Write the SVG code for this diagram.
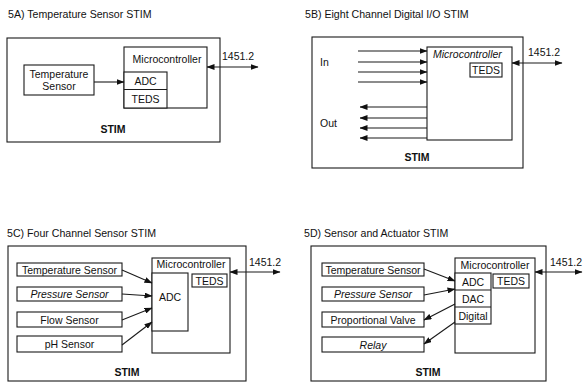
<svg xmlns="http://www.w3.org/2000/svg" width="584" height="383" viewBox="0 0 584 383">
<defs>
<style>
.t{font-family:"Liberation Sans",Arial,sans-serif;font-size:10.5px;fill:#111}
.ttl{font-family:"Liberation Sans",Arial,sans-serif;font-size:10.6px;fill:#111}
.m{text-anchor:middle}
.i{font-style:italic}
.b{font-weight:bold}
.box{fill:#fff;stroke:#1a1a1a;stroke-width:1.1}
.ln{stroke:#1a1a1a;stroke-width:1.1;fill:none}
.a{marker-end:url(#ah)}
.ar{marker-end:url(#ah);marker-start:url(#ah)}
</style>
<marker id="ah" viewBox="0 0 8 6" refX="7.5" refY="3" markerWidth="8" markerHeight="6" markerUnits="userSpaceOnUse" orient="auto-start-reverse">
<path d="M0,0 L8,3 L0,6 z" fill="#111"/>
</marker>
</defs>
<rect width="584" height="383" fill="#fff"/>

<!-- Panel A -->
<g id="panelA">
<text class="ttl" x="8" y="18">5A) Temperature Sensor STIM</text>
<rect class="box" x="7" y="38" width="213" height="104"/>
<text class="t b m" x="113" y="133">STIM</text>
<text class="t" x="222" y="60">1451.2</text>
</g>
<g id="A-micro">
<rect class="box" x="124" y="47" width="83" height="61"/>
<text class="t m" x="167" y="63">Microcontroller</text>
<rect class="box" x="124" y="72" width="43" height="36"/>
<line class="ln" x1="124" y1="89.5" x2="167" y2="89.5"/>
<text class="t m" x="145.5" y="85">ADC</text>
<text class="t m" x="145.5" y="103">TEDS</text>
</g>
<g id="A-sensor">
<rect class="box" x="24" y="65" width="70" height="30"/>
<text class="t m" x="59" y="78">Temperature</text>
<text class="t m" x="59" y="90">Sensor</text>
</g>

<!-- Panel B -->
<g id="panelB">
<text class="ttl" x="305" y="18">5B) Eight Channel Digital I/O STIM</text>
<rect class="box" x="312" y="37" width="211" height="131"/>
<text class="t" x="320" y="66">In</text>
<text class="t" x="320" y="127">Out</text>
<text class="t b m" x="417" y="161">STIM</text>
<text class="t" x="528" y="56">1451.2</text>
</g>
<g id="B-micro">
<rect class="box" x="427" y="47" width="85" height="93"/>
<text class="t i" x="433" y="58">Microcontroller</text>
<rect class="box" x="470" y="63" width="32" height="14"/>
<text class="t m" x="486" y="74">TEDS</text>
</g>

<!-- Panel C -->
<g id="panelC">
<text class="ttl" x="7" y="237">5C) Four Channel Sensor STIM</text>
<rect class="box" x="8" y="246" width="238" height="135"/>
<text class="t b m" x="127" y="376">STIM</text>
<text class="t" x="249" y="266">1451.2</text>
</g>
<g id="C-micro">
<rect class="box" x="152" y="258" width="78" height="95"/>
<text class="t m" x="191" y="268">Microcontroller</text>
<rect class="box" x="152" y="273" width="36" height="58"/>
<text class="t m" x="170" y="301">ADC</text>
<rect class="box" x="192" y="274" width="35" height="13"/>
<text class="t m" x="209.5" y="284.5">TEDS</text>
</g>
<g id="C-temp"><rect class="box" x="17" y="263" width="105" height="13"/><text class="t m" x="69.5" y="273.5">Temperature Sensor</text></g>
<g id="C-press"><rect class="box" x="17" y="287" width="105" height="14"/><text class="t m i" x="69.5" y="298">Pressure Sensor</text></g>
<g id="C-flow"><rect class="box" x="17" y="312" width="105" height="15"/><text class="t m" x="69.5" y="323.5">Flow Sensor</text></g>
<g id="C-ph"><rect class="box" x="17" y="336" width="105" height="16"/><text class="t m" x="69.5" y="348">pH Sensor</text></g>

<!-- Panel D -->
<g id="panelD">
<text class="ttl" x="304" y="237">5D) Sensor and Actuator STIM</text>
<rect class="box" x="311" y="246" width="235" height="135"/>
<text class="t b m" x="428" y="376">STIM</text>
<text class="t" x="550" y="266">1451.2</text>
</g>
<g id="D-micro">
<rect class="box" x="455" y="258" width="80" height="95"/>
<text class="t m" x="495" y="269">Microcontroller</text>
<rect class="box" x="455" y="273" width="36" height="51"/>
<line class="ln" x1="455" y1="290" x2="491" y2="290"/>
<line class="ln" x1="455" y1="307" x2="491" y2="307"/>
<text class="t m" x="473" y="285.5">ADC</text>
<text class="t m" x="473" y="302.5">DAC</text>
<text class="t m" x="473" y="319.5">Digital</text>
<rect class="box" x="493" y="274" width="36" height="14"/>
<text class="t m" x="511" y="285">TEDS</text>
</g>
<g id="D-temp"><rect class="box" x="322" y="263" width="102" height="13"/><text class="t m" x="373" y="273.5">Temperature Sensor</text></g>
<g id="D-press"><rect class="box" x="322" y="287" width="102" height="14"/><text class="t m i" x="373" y="298">Pressure Sensor</text></g>
<g id="D-valve"><rect class="box" x="322" y="312" width="102" height="15"/><text class="t m" x="373" y="323.5">Proportional Valve</text></g>
<g id="D-relay"><rect class="box" x="322" y="337" width="102" height="15"/><text class="t m i" x="373" y="348.5">Relay</text></g>

<!-- Connectors -->
<g id="connectors">
<line class="ln a" x1="94" y1="82" x2="124" y2="82"/>
<line class="ln ar" x1="207" y1="67" x2="258" y2="67"/>

<line class="ln a" x1="358" y1="51" x2="427" y2="51"/>
<line class="ln a" x1="358" y1="62" x2="427" y2="62"/>
<line class="ln a" x1="358" y1="72" x2="427" y2="72"/>
<line class="ln a" x1="358" y1="82" x2="427" y2="82"/>
<line class="ln a" x1="427" y1="107" x2="360" y2="107"/>
<line class="ln a" x1="427" y1="118" x2="360" y2="118"/>
<line class="ln a" x1="427" y1="128" x2="360" y2="128"/>
<line class="ln a" x1="427" y1="138" x2="360" y2="138"/>
<line class="ln ar" x1="512" y1="63" x2="562" y2="63"/>

<line class="ln a" x1="122" y1="270" x2="152" y2="283"/>
<line class="ln a" x1="122" y1="294" x2="152" y2="296"/>
<line class="ln a" x1="122" y1="320" x2="152" y2="308"/>
<line class="ln a" x1="122" y1="345" x2="152" y2="322"/>
<line class="ln ar" x1="230" y1="272" x2="280" y2="272"/>

<line class="ln a" x1="424" y1="269" x2="455" y2="281"/>
<line class="ln a" x1="424" y1="295" x2="455" y2="289"/>
<line class="ln a" x1="455" y1="304" x2="424" y2="320"/>
<line class="ln a" x1="455" y1="322" x2="424" y2="344"/>
<line class="ln ar" x1="535" y1="272" x2="582" y2="272"/>
</g>
</svg>
